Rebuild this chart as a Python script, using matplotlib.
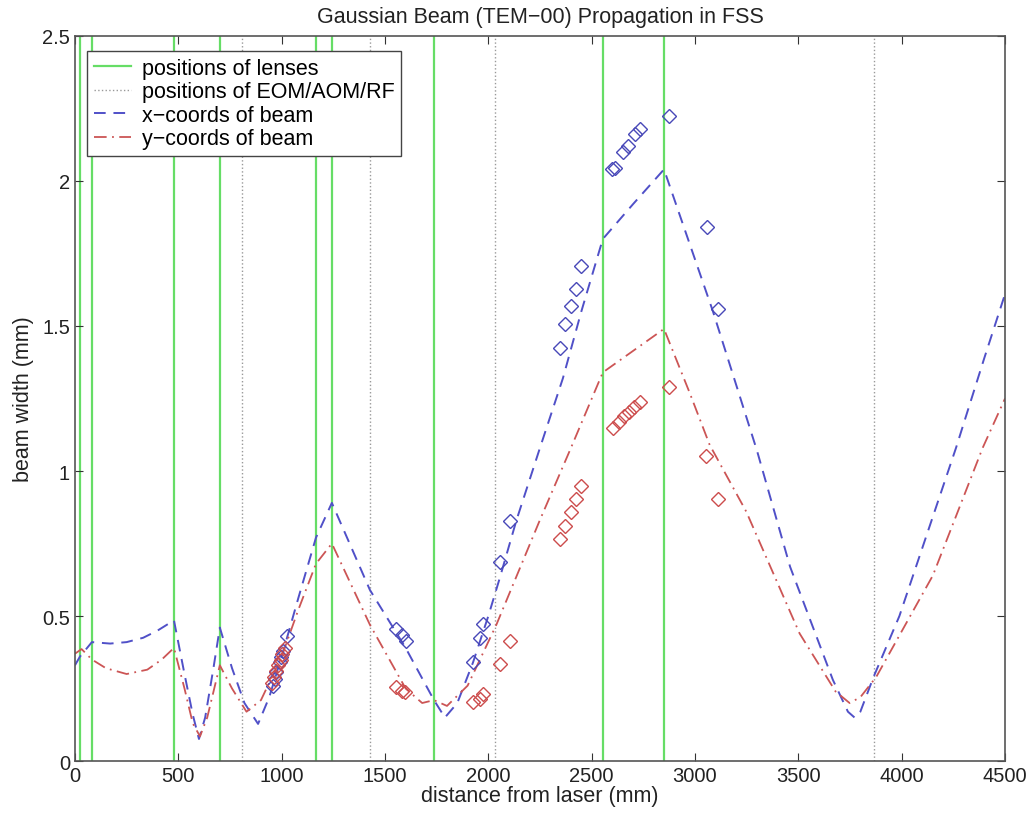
import numpy as np
import matplotlib
matplotlib.use('Agg')
import matplotlib.pyplot as plt

plt.rcParams['font.family'] = ['Liberation Sans', 'DejaVu Sans']

# positions along the bench (mm)
lens_pos = [24, 82, 479, 701, 1166, 1243, 1737, 2554, 2850]
eom_pos = [808, 1427, 2032, 3864]

# model curve, x-coords of beam
bx_z = [0, 24, 82, 170, 250, 330, 400, 479, 530, 570, 600, 630, 670, 701,
        760, 820, 886, 940, 1000, 1080, 1166, 1243, 1427, 1600, 1737, 1790,
        1850, 1926, 2000, 2055, 2136, 2250, 2361, 2450, 2554, 2700, 2850,
        3087, 3300, 3460, 3667, 3740, 3772, 3800, 3864, 3989, 4263, 4400, 4500]
bx_w = [0.33, 0.36, 0.41, 0.405, 0.41, 0.425, 0.45, 0.485, 0.30, 0.16, 0.076,
        0.15, 0.32, 0.46, 0.32, 0.20, 0.128, 0.22, 0.36, 0.56, 0.77, 0.89, 0.59,
        0.39, 0.21, 0.15, 0.20, 0.34, 0.50, 0.63, 0.83, 1.08, 1.32, 1.55, 1.80,
        1.92, 2.04, 1.55, 1.07, 0.67, 0.28, 0.17, 0.15, 0.17, 0.29, 0.50, 1.08,
        1.39, 1.61]

# model curve, y-coords of beam
by_z = [0, 32, 82, 150, 250, 350, 420, 479, 530, 570, 605, 640, 701, 760,
        830, 900, 1000, 1080, 1166, 1243, 1427, 1600, 1680, 1737, 1800, 1900,
        2039, 2249, 2400, 2554, 2850, 2974, 3071, 3248, 3506, 3680, 3748,
        3800, 3877, 4151, 4392, 4500]
by_w = [0.37, 0.386, 0.35, 0.32, 0.30, 0.315, 0.35, 0.39, 0.25, 0.13, 0.085,
        0.15, 0.33, 0.25, 0.17, 0.21, 0.36, 0.52, 0.68, 0.75, 0.47, 0.25, 0.20,
        0.21, 0.19, 0.26, 0.47, 0.83, 1.08, 1.34, 1.49, 1.27, 1.09, 0.86,
        0.44, 0.24, 0.20, 0.22, 0.29, 0.64, 1.08, 1.25]

# measured points
mx_z = [959, 967, 975, 991, 999, 1007, 1024, 1555, 1580, 1600, 1926, 1958,
        1975, 2055, 2103, 2345, 2369, 2401, 2422, 2450, 2600, 2615, 2651, 2676,
        2708, 2732, 2874, 3059, 3111]
mx_w = [0.26, 0.283, 0.306, 0.34, 0.357, 0.38, 0.432, 0.455, 0.435, 0.415,
        0.34, 0.423, 0.472, 0.685, 0.829, 1.423, 1.507, 1.57, 1.628, 1.708,
        2.04, 2.045, 2.099, 2.12, 2.162, 2.18, 2.225, 1.84, 1.559]
my_z = [955, 963, 971, 983, 995, 1003, 1015, 1555, 1580, 1596, 1926, 1958,
        1975, 2055, 2103, 2345, 2369, 2401, 2425, 2450, 2603, 2630, 2655, 2680,
        2705, 2732, 2874, 3054, 3111]
my_w = [0.27, 0.29, 0.31, 0.33, 0.35, 0.37, 0.39, 0.254, 0.242, 0.238,
        0.202, 0.214, 0.231, 0.334, 0.415, 0.766, 0.811, 0.857, 0.903, 0.949,
        1.15, 1.17, 1.19, 1.205, 1.22, 1.237, 1.289, 1.053, 0.903]

fig = plt.figure(figsize=(10.31, 8.20), dpi=100)
ax = fig.add_axes([0.0727, 0.0707, 0.9021, 0.8842])

# vertical markers
for i, p in enumerate(lens_pos):
    ax.axvline(p, color='#66dd66', lw=1.6, zorder=1,
               label='positions of lenses' if i == 0 else None)
for i, p in enumerate(eom_pos):
    ax.axvline(p, color='#999999', lw=1.0, ls=':', zorder=1,
               label='positions of EOM/AOM/RF' if i == 0 else None)

ax.plot(bx_z, bx_w, color='#5050c8', ls=(0, (6, 4)), lw=1.4,
        label='x−coords of beam', zorder=2)
ax.plot(by_z, by_w, color='#cc5555', ls=(0, (7, 3, 1, 3)), lw=1.3,
        label='y−coords of beam', zorder=2)

ax.plot(mx_z, mx_w, 'D', ms=7.5, mfc='none', mec='#4848b8', mew=1.0, zorder=3)
ax.plot(my_z, my_w, 'D', ms=7.5, mfc='none', mec='#cc4c4c', mew=1.0, zorder=3)

ax.set_xlim(0, 4500)
ax.set_ylim(0, 2.5)
ax.set_xticks(np.arange(0, 4501, 500))
ax.set_yticks([0, 0.5, 1, 1.5, 2, 2.5])
ax.set_yticklabels(['0', '0.5', '1', '1.5', '2', '2.5'])
ax.tick_params(direction='in', top=True, right=True, length=6,
               labelsize=14.5, color='#333333', labelcolor='#222222')
for s in ax.spines.values():
    s.set_color('#555555')
    s.set_linewidth(1.2)

ax.set_title('Gaussian Beam (TEM−00) Propagation in FSS', fontsize=15.5,
             pad=10, color='#222222')
ax.set_xlabel('distance from laser (mm)', fontsize=15.5, labelpad=0,
              color='#222222')
ax.set_ylabel('beam width (mm)', fontsize=15.5, labelpad=6, color='#222222')

leg = ax.legend(loc='upper left', bbox_to_anchor=(0.013, 0.979),
                borderaxespad=0, fontsize=15.5, fancybox=False,
                framealpha=1, edgecolor='#444444', handlelength=1.75,
                handletextpad=0.5, borderpad=0.3, labelspacing=0.12)
leg.get_frame().set_linewidth(1.0)

fig.savefig('out.png', dpi=100)
